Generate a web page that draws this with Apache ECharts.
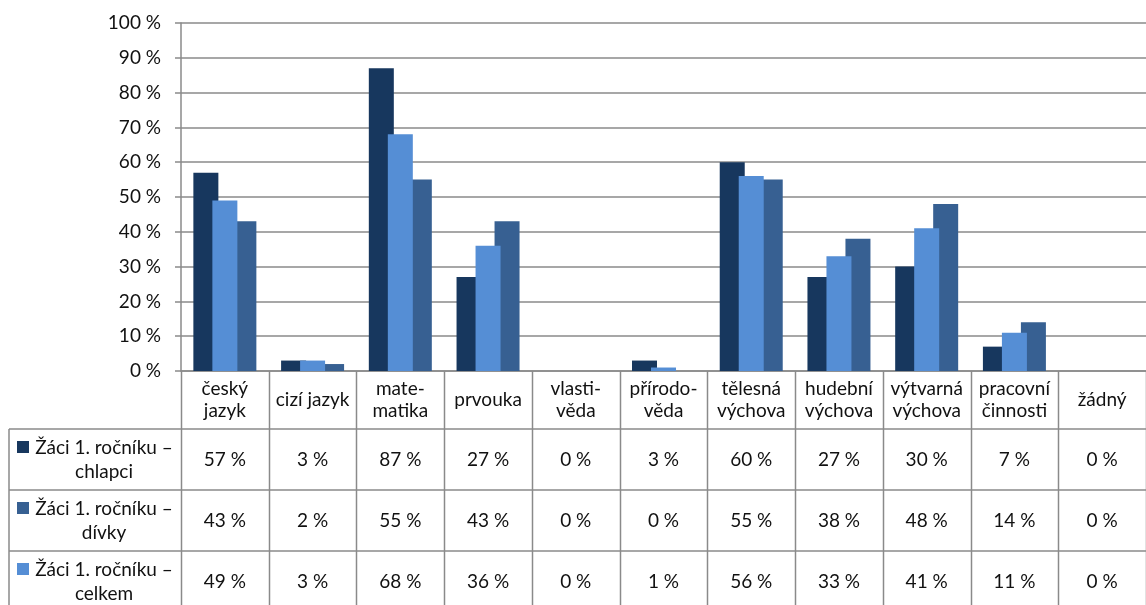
<!DOCTYPE html>
<html>
<head>
<meta charset="utf-8">
<script src="https://cdn.jsdelivr.net/npm/echarts@6/dist/echarts.min.js"></script>
<style>
  html, body { margin: 0; padding: 0; background: #fff; }
  #main { width: 1146px; height: 605px; }
</style>
</head>
<body>
<div id="main"></div>
<script>
var categories = ['český\njazyk', 'cizí jazyk', 'mate-\nmatika', 'prvouka', 'vlasti-\nvěda', 'přírodo-\nvěda',
  'tělesná\nvýchova', 'hudební\nvýchova', 'výtvarná\nvýchova', 'pracovní\nčinnosti', 'žádný'];
var chlapci = [57, 3, 87, 27, 0, 3, 60, 27, 30, 7, 0];
var divky   = [43, 2, 55, 43, 0, 0, 55, 38, 48, 14, 0];
var celkem  = [49, 3, 68, 36, 0, 1, 56, 33, 41, 11, 0];
var yTicks = [0, 10, 20, 30, 40, 50, 60, 70, 80, 90, 100];

var names = ['Žáci 1. ročníku – chlapci', 'Žáci 1. ročníku – dívky', 'Žáci 1. ročníku – celkem'];
var colors = { chlapci: '#17375E', divky: '#376092', celkem: '#558ED5' };

// layout
var W = 1146, H = 605;
var gLeft = 181, gTop = 23, gBottom = 371;
var headBottom = 429;
var rowLines = [429, 490, 551];
var rowH = 61;
var tableLeft = 9;
var lineColor = '#8a8a8a';
var font = 'Lato, "Open Sans", sans-serif';
var fs = 19;

var myChart = echarts.init(document.getElementById('main'));

var colW = (W - gLeft) / categories.length;

var graphics = [];
// horizontal table lines
rowLines.forEach(function (y) {
  graphics.push({ type: 'line', shape: { x1: tableLeft, y1: y, x2: W, y2: y },
    style: { stroke: lineColor, lineWidth: 1.5 }, z: 10 });
});
// left border of row labels
graphics.push({ type: 'line', shape: { x1: tableLeft, y1: headBottom, x2: tableLeft, y2: H },
  style: { stroke: lineColor, lineWidth: 1.5 }, z: 10 });
// column separators
for (var i = 0; i <= categories.length; i++) {
  var x = Math.round(gLeft + i * colW) + 0.5;
  graphics.push({ type: 'line', shape: { x1: x, y1: gBottom, x2: x, y2: H },
    style: { stroke: lineColor, lineWidth: 1.5 }, z: 10 });
}
// row labels with legend keys
var rowSeries = [
  { label: 'Žáci 1. ročníku –\nchlapci', color: colors.chlapci },
  { label: 'Žáci 1. ročníku –\ndívky', color: colors.divky },
  { label: 'Žáci 1. ročníku –\ncelkem', color: colors.celkem }
];
rowSeries.forEach(function (r, k) {
  var top = rowLines[k];
  graphics.push({ type: 'rect', shape: { x: 17, y: top + 12, width: 12, height: 12 },
    style: { fill: r.color }, z: 11 });
  graphics.push({ type: 'text', x: 104, y: top + rowH / 2 + 0.5,
    style: { text: r.label, fill: '#111', font: fs + 'px ' + font, align: 'center',
      verticalAlign: 'middle', lineHeight: 24 }, z: 11 });
});

function valueAxis(data, margin) {
  return {
    type: 'category', data: categories, position: 'bottom', gridIndex: 0,
    axisLine: { show: false }, axisTick: { show: false },
    axisLabel: {
      interval: 0, margin: margin, verticalAlign: 'middle', fontSize: fs, fontFamily: font, color: '#111',
      formatter: function (v, idx) { return data[idx] + ' %'; }
    }
  };
}

var option = {
  animation: false,
  textStyle: { fontFamily: font },
  grid: { left: gLeft, right: 0, top: gTop, bottom: H - gBottom, containLabel: false },
  xAxis: [
    {
      type: 'category', data: categories,
      axisLine: { lineStyle: { color: lineColor, width: 1.5 } },
      axisTick: { show: false },
      axisLabel: { interval: 0, margin: 29, verticalAlign: 'middle', fontSize: fs, lineHeight: 22,
        fontFamily: font, color: '#111' }
    },
    valueAxis(chlapci, 89),
    valueAxis(divky, 150),
    valueAxis(celkem, 211)
  ],
  yAxis: {
    type: 'value', min: 0, max: 100, interval: 10,
    axisLine: { show: true, lineStyle: { color: lineColor, width: 1.5 } },
    axisTick: { show: true, length: 6, lineStyle: { color: lineColor, width: 1.5 } },
    splitLine: { lineStyle: { color: lineColor, width: 1.5 } },
    axisLabel: { margin: 20, fontSize: fs, fontFamily: font, color: '#111',
      formatter: function (v) { return yTicks.indexOf(v) >= 0 ? v + ' %' : ''; } }
  },
  series: [
    { name: names[0], type: 'bar', data: chlapci, barWidth: 25, barGap: '-24%',
      itemStyle: { color: colors.chlapci }, z: 2 },
    { name: names[2], type: 'bar', data: celkem, barWidth: 25, barGap: '-24%',
      itemStyle: { color: colors.celkem }, z: 4 },
    { name: names[1], type: 'bar', data: divky, barWidth: 25, barGap: '-24%',
      itemStyle: { color: colors.divky }, z: 3 }
  ],
  graphic: graphics
};

option && myChart.setOption(option);
</script>
</body>
</html>
